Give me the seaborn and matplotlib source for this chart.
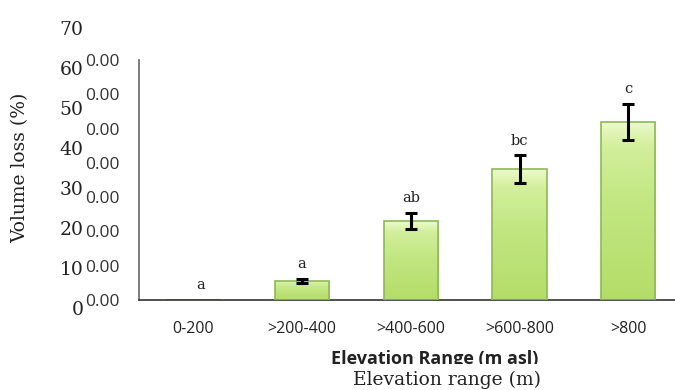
import numpy as np
import pandas as pd
import matplotlib
matplotlib.use('Agg')
import matplotlib.pyplot as plt
import seaborn as sns
from matplotlib.colors import LinearSegmentedColormap
from matplotlib.transforms import Bbox, TransformedBbox

# data
categories = ['0-200', '>200-400', '>400-600', '>600-800', '>800']
volume_loss = [0.0, 5.6, 23.0, 38.2, 52.0]
std_err = [0.0, 0.6, 2.4, 4.0, 5.3]
letters = ['a', 'a', 'ab', 'bc', 'c']
outer_ticks = [0, 10, 20, 30, 40, 50, 60, 70]
inner_ticks = [0, 10, 20, 30, 40, 50, 60, 70]
inner_labels = ['0.00'] * len(inner_ticks)

sns.set_theme(style='white')
plt.rcParams['font.family'] = ['Open Sans', 'DejaVu Sans']

fig = plt.figure(figsize=(6.75, 3.9), dpi=100)

# embedded chart (inner axes)
ax = fig.add_axes([139 / 675, 90 / 390, 536 / 675, 240 / 390])
ax.patch.set_alpha(0)
df = pd.DataFrame({'elev': categories, 'loss': volume_loss})
sns.barplot(data=df, x='elev', y='loss', color='#c4e67e', saturation=1,
            width=0.5, edgecolor='#8fb856', linewidth=1.2, errorbar=None, ax=ax)

# vertical gradient fill inside each bar
cmap = LinearSegmentedColormap.from_list(
    'bar', [(0, '#b3dd68'), (0.55, '#c2e782'), (0.86, '#d2ef9c'),
            (0.95, '#e3f7ba'), (1, '#eefad0')])
grad = np.linspace(0, 1, 256).reshape(-1, 1)
for p in ax.patches:
    h = p.get_height()
    if h <= 0:
        continue
    x0, y0, w = p.get_x(), p.get_y(), p.get_width()
    im = ax.imshow(grad, extent=[x0, x0 + w, y0, y0 + h], origin='lower',
                   aspect='auto', cmap=cmap, zorder=2)
    im.set_clip_path(p)
    p.set_facecolor('none')
    p.set_zorder(3)

idx = [i for i, e in enumerate(std_err) if e > 0]
ax.errorbar(x=idx, y=[volume_loss[i] for i in idx], yerr=[std_err[i] for i in idx],
            fmt='none', ecolor='black', elinewidth=2.2, capsize=4, capthick=2.2, zorder=4)

for i, (v, e, lab) in enumerate(zip(volume_loss, std_err, letters)):
    ax.text(i + (0.07 if v == 0 else 0), v + e + 4.3, lab, ha='center', va='center',
            fontsize=10.5, family='DejaVu Serif', color='#222222')

ax.set_xlim(-0.5, 4.43)
ax.set_ylim(0, 70)
ax.set_yticks(inner_ticks)
ax.set_yticklabels(inner_labels)
ax.set_xlabel('')
ax.set_ylabel('')
ax.tick_params(axis='y', length=0, pad=14, labelsize=12.5, labelcolor='#333333')
ax.tick_params(axis='x', length=0, pad=15, labelsize=11.5, labelcolor='#222222')
sns.despine(ax=ax, top=True, right=True)
ax.spines['left'].set_color('#666666')
ax.spines['left'].set_linewidth(1.2)
ax.spines['bottom'].set_color('#333333')
ax.spines['bottom'].set_linewidth(1.2)

# outer axis overlaid on the image
ax2 = fig.add_axes([139 / 675, 82 / 390, 536 / 675, 280 / 390])
ax2.patch.set_alpha(0)
for s in ax2.spines.values():
    s.set_visible(False)
ax2.set_ylim(0, 70)
ax2.set_yticks(outer_ticks)
ax2.set_xticks([])
ax2.tick_params(axis='y', length=0, pad=40, labelsize=13.5, labelcolor='#222222')
for lbl in ax2.get_yticklabels():
    lbl.set_family('DejaVu Serif')

fig.text(20 / 675, 1 - 168 / 390, 'Volume loss (%)', rotation=90, ha='center',
         va='center', fontsize=13.5, family='DejaVu Serif', color='#222222')
fig.text(447 / 675, 1 - 380 / 390, 'Elevation range (m)', ha='center', va='center',
         fontsize=13.5, family='DejaVu Serif', color='#222222')

# bold label of the embedded chart, cut off at the bottom as in the source image
t = fig.text(435 / 675, 1 - 350 / 390, 'Elevation Range (m asl)', ha='center', va='top',
             fontsize=13, fontweight='bold', color='#222222')
t.set_clip_box(TransformedBbox(Bbox([[0, 1 - 364 / 390], [1, 1]]), fig.transFigure))
t.set_clip_on(True)

fig.savefig('out.png', dpi=100)
